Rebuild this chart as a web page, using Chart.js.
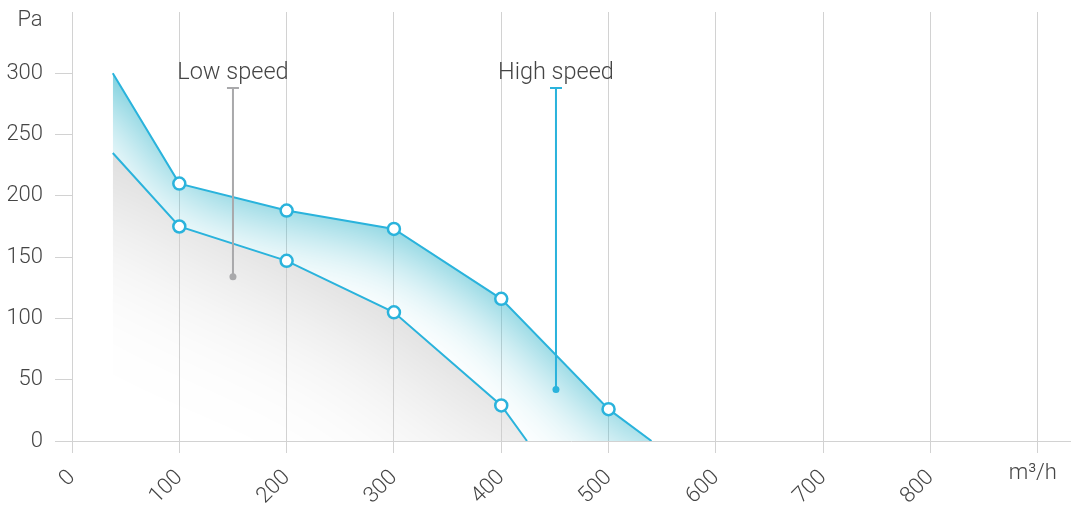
<!DOCTYPE html>
<html><head><meta charset="utf-8">
<script src="https://cdn.jsdelivr.net/npm/chart.js@4.4.0/dist/chart.umd.min.js"></script>
<style>html,body{margin:0;padding:0;background:#fff;}#wrap{width:1073px;height:509px;position:relative;}</style>
</head><body><div id="wrap"><canvas id="c"></canvas></div>
<script>
// ---- data ----
const highX = [38, 100, 200, 300, 400, 500, 540];
const highY = [300, 210, 188, 173, 116, 26, 0];
const lowX = [38, 100, 200, 300, 400, 424];
const lowY = [235, 175, 147, 105, 29, 0];
const xTicks = [0, 100, 200, 300, 400, 500, 600, 700, 800, 900];
const yTicks = [0, 50, 100, 150, 200, 250, 300];
const xMax = 930, yMax = 350;
const annoNames = ['Low speed', 'High speed'];
const annoX = [150, 451];
const annoTop = [288, 288];
const annoBottom = [134, 42];
const annoTextY = 300;
const xUnit = 'm³/h', yUnit = 'Pa';

// ---- style ----
const CYAN = '#2ab3dc';
const GRAY = '#a9a9ab';
const GRID = '#d2d2d2';
const TXT = '#454545';
const FONT = {family: 'Roboto', size: 22, weight: '300'};
const annoColors = [GRAY, CYAN];

// low curve continued along the axis up to the end of the high curve (invisible), so the band fill spans it
const lowFillX = lowX.concat([highX[highX.length - 1]]);
const lowFillY = lowY.concat([0]);

function toPts(chart, xs, ys) {
  const sx = chart.scales.x, sy = chart.scales.y;
  return xs.map((v, i) => [sx.getPixelForValue(v), sy.getPixelForValue(ys[i])]);
}
// inner-shadow pattern used as the fill colour of a dataset
function shadePattern(chart, xs, ys, color, blur) {
  if (!chart.chartArea || !chart.scales.x) return 'rgba(0,0,0,0)';
  const w = chart.width, h = chart.height;
  const off = document.createElement('canvas');
  off.width = w; off.height = h;
  const g = off.getContext('2d');
  const pts = toPts(chart, xs, ys);
  const D = 6000, E = 3000;
  g.shadowColor = color; g.shadowBlur = blur; g.shadowOffsetX = D; g.shadowOffsetY = 0;
  g.fillStyle = '#000';
  g.beginPath();
  g.moveTo(-E - D, pts[0][1]);
  pts.forEach(p => g.lineTo(p[0] - D, p[1]));
  g.lineTo(w + E - D, pts[pts.length - 1][1]);
  g.lineTo(w + E - D, -E);
  g.lineTo(-E - D, -E);
  g.closePath();
  g.fill();
  return chart.ctx.createPattern(off, 'no-repeat');
}

const unitPlugin = {
  id: 'units',
  afterDraw(chart) {
    const ctx = chart.ctx, sx = chart.scales.x, sy = chart.scales.y;
    ctx.save();
    ctx.fillStyle = TXT;
    ctx.font = `${FONT.weight} ${FONT.size}px ${FONT.family}`;
    ctx.textAlign = 'center'; ctx.textBaseline = 'middle';
    ctx.fillText(yUnit, 30, 20);
    ctx.fillText(xUnit, sx.getPixelForValue(xTicks[xTicks.length - 1]) - 5, 473);
    ctx.font = `${FONT.weight} 23.5px ${FONT.family}`;
    annoNames.forEach((n, i) => {
      ctx.fillText(n, sx.getPixelForValue(annoX[i]), sy.getPixelForValue(annoTextY));
    });
    ctx.restore();
  }
};

const pointR = ctx => {
  const n = ctx.dataset.curveLen;
  return (ctx.dataIndex === 0 || ctx.dataIndex >= n - 1) ? 0 : 6;
};

const datasets = [
  {
    curveLen: lowX.length,
    data: lowFillX.map((x, i) => ({x, y: lowFillY[i]})),
    borderColor: CYAN, borderWidth: 2, fill: 'origin',
    segment: {borderColor: c => (c.p0DataIndex >= lowX.length - 1 ? 'rgba(0,0,0,0)' : undefined)},
    backgroundColor: c => shadePattern(c.chart, lowX, lowY, 'rgb(203,203,203)', 170),
    pointRadius: pointR, pointHoverRadius: pointR,
    pointBackgroundColor: '#fff', pointBorderColor: CYAN, pointBorderWidth: 2.5,
    order: 2
  },
  {
    curveLen: highX.length,
    data: highX.map((x, i) => ({x, y: highY[i]})),
    borderColor: CYAN, borderWidth: 2, fill: '-1',
    backgroundColor: c => shadePattern(c.chart, highX, highY, 'rgb(66,186,206)', 84),
    pointRadius: pointR, pointHoverRadius: pointR,
    pointBackgroundColor: '#fff', pointBorderColor: CYAN, pointBorderWidth: 2.5,
    order: 1
  }
];
annoNames.forEach((n, i) => {
  datasets.push({
    data: [{x: annoX[i], y: annoTop[i]}, {x: annoX[i], y: annoBottom[i]}],
    borderColor: annoColors[i], borderWidth: 2, fill: false,
    pointStyle: ['line', 'circle'], pointRadius: [6, 3.5], pointHoverRadius: [6, 3.5],
    pointBorderWidth: [2, 0], pointBackgroundColor: annoColors[i], pointBorderColor: annoColors[i],
    order: 0
  });
});

new Chart(document.getElementById('c'), {
  type: 'line',
  data: {datasets},
  plugins: [unitPlugin],
  options: {
    responsive: true, maintainAspectRatio: false, animation: false,
    layout: {autoPadding: false, padding: {top: 12, right: 3, left: 0, bottom: 0}},
    plugins: {legend: {display: false}, tooltip: {enabled: false}, filler: {drawTime: 'beforeDatasetsDraw'}},
    elements: {line: {tension: 0}},
    scales: {
      x: {
        type: 'linear', min: 0, max: xMax,
        afterBuildTicks: s => { s.ticks = xTicks.map(v => ({value: v})); },
        afterFit: s => { s.height = 68; s.paddingLeft = 0; s.paddingRight = 0; },
        grid: {color: GRID, lineWidth: 1, tickLength: 12},
        border: {color: GRID},
        ticks: {
          minRotation: 45, maxRotation: 45, padding: 12, color: TXT, font: FONT,
          callback: v => (v === xTicks[xTicks.length - 1] ? '' : String(v))
        }
      },
      y: {
        type: 'linear', min: 0, max: yMax,
        afterBuildTicks: s => { s.ticks = yTicks.map(v => ({value: v})); },
        afterFit: s => { s.width = 72; s.paddingTop = 0; s.paddingBottom = 0; },
        grid: {drawOnChartArea: false, color: GRID, tickLength: 17},
        border: {color: GRID},
        ticks: {padding: 12, color: TXT, font: FONT}
      }
    }
  }
});
</script></body></html>
